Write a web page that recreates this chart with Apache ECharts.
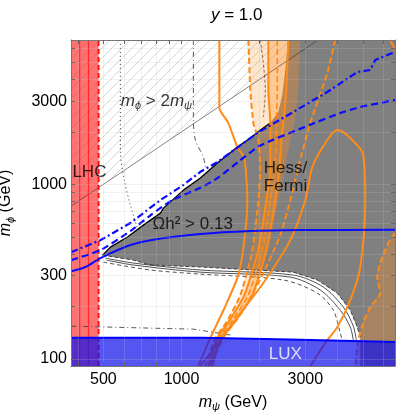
<!DOCTYPE html>
<html>
<head>
<meta charset="utf-8">
<script src="https://cdn.jsdelivr.net/npm/echarts@6/dist/echarts.min.js"></script>
<style>
html, body { margin: 0; padding: 0; background: #fff; }
#chart { width: 399px; height: 416px; }
</style>
</head>
<body>
<div id="chart"></div>
<script>
// all masses in GeV, points are [m_psi, m_phi]
var xRange = [375, 6650];
var yRange = [91, 6720];
var xTickLabels = [500, 1000, 3000];
var yTickLabels = [100, 300, 1000, 3000];
var xTicks = [400, 500, 600, 700, 800, 900, 1000, 2000, 3000, 4000, 5000, 6000];
var yTicks = [100, 200, 300, 400, 500, 600, 700, 800, 900, 1000, 2000, 3000, 4000, 5000, 6000];

// m_phi > 2 m_psi (hatched)
var twiceLine = [[375, 750], [3360, 6720]];
var hatchRegion = [[375, 750], [3360, 6720], [375, 6720]];

// Omega h^2 > 0.13 (grey)
var relicEdge = [[496, 393], [532, 437], [619, 499], [713, 584], [829, 684], [852, 731], [1017, 927],
  [1182, 1087], [1375, 1325], [1641, 1636], [1842, 1843], [2013, 2048], [2199, 2246]];
var relicRegion = relicEdge.concat([[2361, 2597], [2446, 3251], [2512, 4523], [2579, 6720], [6650, 6720],
  [6650, 91], [4887, 91], [4887, 133], [4759, 152], [4473, 190], [3985, 238], [3338, 283], [2697, 314],
  [1182, 336], [759, 345], [652, 368], [496, 393]]);
var pocketEdge = [[496, 393], [652, 368], [759, 345], [1182, 336], [2697, 314], [3338, 283], [3985, 238],
  [4473, 190], [4759, 152], [4887, 133]];
var pocketSolidA = [[509, 378], [652, 354], [1182, 323], [2697, 302], [3520, 258], [4204, 198], [4593, 154], [4717, 128]];
var pocketSolidB = [[514, 368], [652, 345], [1182, 314], [2626, 294], [3427, 248], [4093, 190], [4473, 152], [4593, 128]];
var pocketDashed = [[500, 358], [759, 323], [1182, 306], [2468, 283], [3338, 238], [3846, 190], [4093, 140], [4166, 128]];

// thin black contours
var dottedCurve = [[581, 6720], [581, 1573], [602, 1059], [635, 761], [676, 562]];
var dashDotCurve = [[1111, 6720], [1111, 2337], [1131, 1795], [1214, 1434], [1236, 1240]];
var dashDotLow = [[376, 154], [759, 150], [1111, 148], [1542, 137]];
var darkWiggle = [[2013, 6720], [2104, 3473], [2067, 2432]];

// LHC
var lhcSolid = [405, 438];
var lhcDashed = 479;
var lhcRegion = [[375, 91], [479, 91], [479, 6720], [375, 6720]];

// LUX
var luxTop = [[375, 132], [1200, 132], [2600, 129], [6650, 125]];
var luxRegion = luxTop.concat([[6650, 91], [375, 91]]);

// relic / other blue contours
var omegaSolid = [[376, 318], [426, 336], [487, 378], [635, 449], [759, 479], [1182, 519], [1842, 540], [2870, 547], [6650, 549]];
var blueDashed = [[376, 368], [487, 420], [635, 540], [759, 665], [922, 813], [1182, 955], [1375, 1085], [1686, 1377],
  [2013, 1670], [3136, 2196], [4093, 2563], [4887, 2775], [6650, 3044]];
var blueDashDot = [[376, 409], [487, 479], [635, 600], [829, 813], [1017, 992], [1182, 1180], [1375, 1341],
  [1960, 1969], [3647, 3382], [4759, 4405], [5341, 4523], [5583, 5162], [6210, 5513], [6650, 5737]];

// Hess / Fermi contours
var fermiLeft = [[1810, 6720], [1842, 3473], [1892, 2246], [1977, 1795], [2013, 1208], [1977, 813], [1875, 420], [1686, 232], [1489, 162], [1351, 132], [1236, 91]];
var hessLeft = [[2161, 6720], [2161, 3473], [2199, 2246], [2199, 1795], [2199, 1208], [2123, 813], [1977, 420], [1747, 232], [1516, 162], [1375, 132], [1269, 91]];
var fermiMid = [[2340, 6720], [2340, 3473], [2320, 2246], [2320, 1795], [2279, 1208], [2199, 813], [2049, 420], [1810, 232], [1556, 162], [1399, 132], [1292, 91]];
var fermiRight = [[2579, 6720], [2534, 3473], [2468, 2246], [2425, 1795], [2382, 1208], [2299, 813], [2123, 420], [1875, 232], [1598, 162], [1424, 132], [1315, 91]];
var hessRight = [[2870, 6720], [2819, 3473], [2722, 2246], [2626, 1795], [2490, 1208], [2361, 813], [2161, 420], [1909, 232], [1627, 162], [1437, 132], [1327, 91]];
var hessOuter = [[1399, 6720], [1399, 2739], [1516, 2246], [1641, 1636], [1747, 1415], [1794, 813], [1747, 479], [1656, 302], [1463, 195], [1292, 132], [1161, 91]];
var fermiOuter = [[3915, 6720], [3647, 4347], [3136, 2246], [2819, 1257], [2626, 813], [2403, 512], [2049, 302], [1731, 190], [1450, 132], [1292, 91]];
var hessLoop = [[1182, 91], [1437, 132], [1686, 183], [2067, 272], [2626, 479], [3000, 813], [3193, 1257], [3647, 1795],
  [3985, 2048], [4473, 1843], [5019, 1472], [5109, 813], [4887, 336], [4473, 217], [3985, 152], [3647, 128], [3136, 91]];
var fermiHigh = [[6650, 526], [6265, 461], [5836, 354], [5682, 294], [5836, 238], [5341, 198], [5019, 160], [4801, 128], [4675, 91]];
var fermiHighRegion = fermiHigh.concat([[6650, 91]]);
var cornerArc = [[6377, 6720], [6650, 5900]];

var annotations = [
  { at: [581, 3004], text: '{i|m}{s|ϕ} > 2{i|m}{s|ψ}', pos: 'right' },
  { at: [378, 1176], text: 'LHC', pos: 'right' },
  { at: [2067, 1101], text: 'Hess/\nFermi', pos: 'right' },
  { at: [770, 592], text: 'Ωh² > 0.13', pos: 'right' },
  { at: [2512, 106], text: 'LUX', pos: 'inside', color: '#fff' }
];

var FONT = '"Liberation Sans", Arial, sans-serif';
var lg = Math.log10;
function P(pts) { return pts.map(function (p) { return [lg(p[0]), lg(p[1])]; }); }
function fmt(v) { return String(Math.round(Math.pow(10, v))); }

function hatchImage() {
  var c = document.createElement('canvas');
  c.width = 10; c.height = 10;
  var g = c.getContext('2d');
  g.strokeStyle = '#c4c4c4';
  g.lineWidth = 0.7;
  g.beginPath();
  g.moveTo(0, 10); g.lineTo(10, 0);
  g.moveTo(-5, 5); g.lineTo(5, -5);
  g.moveTo(5, 15); g.lineTo(15, 5);
  g.stroke();
  return c;
}

function area(pts, style, z) {
  var data = P(pts);
  return {
    type: 'custom', silent: true, z: z, animation: false,
    data: [0],
    renderItem: function (params, api) {
      return {
        type: 'polygon',
        shape: { points: data.map(function (p) { return api.coord(p); }) },
        style: style
      };
    }
  };
}

function line(pts, color, width, type, z, smooth) {
  return {
    type: 'line', data: P(pts), z: z, silent: true, animation: false,
    symbol: 'none', showSymbol: false, smooth: smooth || false,
    lineStyle: { color: color, width: width, type: type || 'solid' }
  };
}

function vline(x) { return [[x, yRange[0]], [x, yRange[1]]]; }

var orange = '#ff8a14';
var series = [
  area(hatchRegion, { fill: { image: hatchImage(), repeat: 'repeat' } }, 1),
  line(twiceLine, '#333', 0.6, 'solid', 5),
  area(relicRegion, { fill: '#808080' }, 2),
  area(fermiLeft.concat(fermiRight.slice().reverse()), { fill: 'rgba(255,140,30,0.22)' }, 3),
  area(hessLeft.concat(hessRight.slice().reverse()), { fill: 'rgba(255,140,30,0.32)' }, 3),
  area(fermiHighRegion, { fill: 'rgba(255,140,30,0.3)' }, 3),
  area(lhcRegion, { fill: 'rgba(255,20,20,0.6)' }, 4),

  line(relicEdge, '#000', 1.3, 'solid', 5),
  line(pocketEdge, '#222', 0.8, [4, 2], 5),
  line(pocketSolidA, '#222', 0.8, 'solid', 5, 0.3),
  line(pocketSolidB, '#222', 0.8, 'solid', 5, 0.3),
  line(pocketDashed, '#222', 0.8, [4, 3], 5, 0.3),
  line(dottedCurve, '#333', 1, [1, 3], 5, 0.3),
  line(dashDotCurve, '#444', 0.9, [5, 3, 1, 3], 5, 0.3),
  line(dashDotLow, '#444', 0.9, [5, 3, 1, 3], 5),
  line(darkWiggle, '#6a4a30', 0.8, [3, 2], 5, 0.3),

  line(hessOuter, orange, 2, 'solid', 6, 0.2),
  line(fermiLeft, orange, 2, [6, 3], 6, 0.2),
  line(hessLeft, orange, 2, 'solid', 6, 0.2),
  line(fermiMid, orange, 1.6, [6, 3], 6, 0.2),
  line(fermiRight, orange, 2, 'solid', 6, 0.2),
  line(fermiOuter, orange, 2, [6, 3], 6, 0.2),
  line(hessLoop, orange, 2, 'solid', 6, 0.3),
  line(fermiHigh, orange, 2, [6, 3], 6, 0.2),
  line(cornerArc, orange, 2, 'solid', 6),

  line(vline(lhcSolid[0]), '#ff2a2a', 1.2, 'solid', 7),
  line(vline(lhcSolid[1]), '#ff2a2a', 1.2, 'solid', 7),
  line(vline(lhcDashed), '#ff1010', 2, [5, 3], 7),

  line(omegaSolid, '#0a0aff', 2, 'solid', 7, 0.3),
  line(blueDashed, '#0a0aff', 2.2, [7, 4], 7, 0.2),
  line(blueDashDot, '#0a0aff', 2.2, [7, 3, 2, 3], 7),

  area(luxRegion, { fill: 'rgba(20,20,235,0.72)' }, 8),
  line(luxTop, '#0000ff', 2, 'solid', 9),

  {
    type: 'scatter', z: 12, silent: true, animation: false, symbolSize: 1,
    itemStyle: { color: 'rgba(0,0,0,0)' },
    data: annotations.map(function (a) {
      return {
        value: [lg(a.at[0]), lg(a.at[1])],
        label: {
          show: true, position: a.pos, distance: 0, formatter: a.text,
          color: a.color || '#000', fontSize: 17, fontFamily: FONT, lineHeight: 18,
          rich: {
            i: { fontStyle: 'italic', fontSize: 17, fontFamily: FONT, lineHeight: 20, color: a.color || '#000' },
            s: { fontStyle: 'italic', fontSize: 11, fontFamily: FONT, lineHeight: 8, verticalAlign: 'bottom', color: a.color || '#000' }
          }
        }
      };
    })
  }
];

var nameStyle = {
  color: '#000', fontSize: 16, fontFamily: FONT, lineHeight: 20,
  rich: {
    i: { fontStyle: 'italic', fontSize: 16, fontFamily: FONT, lineHeight: 20 },
    s: { fontStyle: 'italic', fontSize: 11, fontFamily: FONT, lineHeight: 8, verticalAlign: 'bottom' }
  }
};
var frame = { show: true, onZero: false, lineStyle: { color: '#777', width: 1 } };
var gridLine = { show: true, lineStyle: { color: 'rgba(190,190,190,0.22)', width: 1 } };

var option = {
  animation: false,
  backgroundColor: '#fff',
  title: {
    text: '{i|y} = 1.0', left: 206, top: 2,
    textStyle: { color: '#000', fontSize: 17, fontWeight: 'normal', fontFamily: FONT,
      rich: { i: { fontStyle: 'italic', fontSize: 17, fontFamily: FONT } } }
  },
  grid: { left: 71, right: 4, top: 40, bottom: 50, containLabel: false, outerBoundsMode: 'none' },
  xAxis: [{
    type: 'value', position: 'bottom', z: 10, min: lg(xRange[0]), max: lg(xRange[1]),
    axisLine: frame,
    axisTick: { show: true, inside: true, length: 4, customValues: xTicks.map(lg), lineStyle: { color: '#666' } },
    axisLabel: { show: true, customValues: xTickLabels.map(lg), formatter: fmt, color: '#000', fontSize: 16, fontFamily: FONT, margin: 6 },
    splitLine: gridLine,
    name: '{i|m}{s|ψ} (GeV)', nameLocation: 'middle', nameGap: 26, nameTextStyle: nameStyle
  }, {
    type: 'value', position: 'top', z: 10, min: lg(xRange[0]), max: lg(xRange[1]),
    axisLine: frame,
    axisTick: { show: true, inside: true, length: 4, customValues: xTicks.map(lg), lineStyle: { color: '#666' } },
    axisLabel: { show: false }, splitLine: { show: false }
  }],
  yAxis: [{
    type: 'value', position: 'left', z: 10, min: lg(yRange[0]), max: lg(yRange[1]),
    axisLine: frame,
    axisTick: { show: true, inside: true, length: 4, customValues: yTicks.map(lg), lineStyle: { color: '#666' } },
    axisLabel: { show: true, customValues: yTickLabels.map(lg), formatter: fmt, color: '#000', fontSize: 16, fontFamily: FONT, margin: 4 },
    splitLine: gridLine,
    name: '{i|m}{s|ϕ} (GeV)', nameLocation: 'middle', nameGap: 55, nameTextStyle: nameStyle
  }, {
    type: 'value', position: 'right', z: 10, min: lg(yRange[0]), max: lg(yRange[1]),
    axisLine: frame,
    axisTick: { show: true, inside: true, length: 4, customValues: yTicks.map(lg), lineStyle: { color: '#666' } },
    axisLabel: { show: false }, splitLine: { show: false }
  }],
  series: series
};

var chart = echarts.init(document.getElementById('chart'), null, { renderer: 'canvas' });
chart.setOption(option);
</script>
</body>
</html>
